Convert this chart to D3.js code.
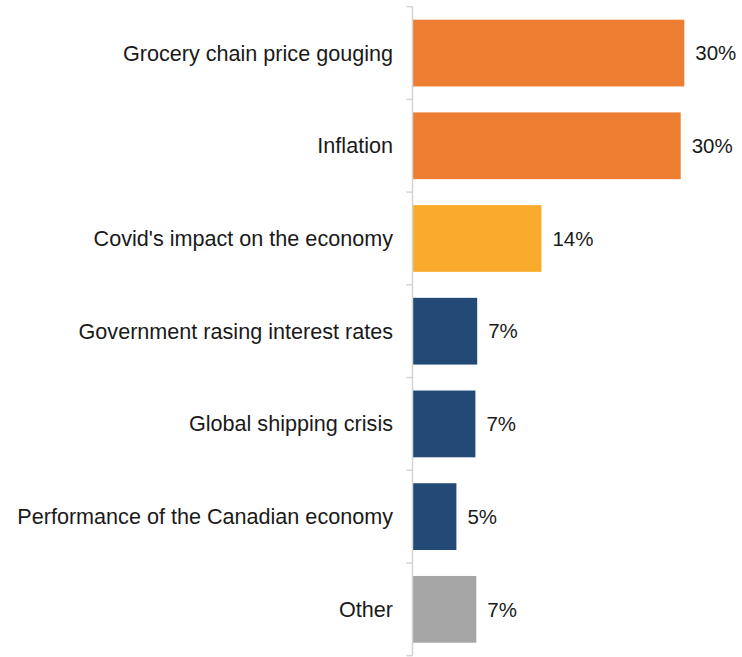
<!DOCTYPE html>
<html>
<head>
<meta charset="utf-8">
<script src="https://cdn.jsdelivr.net/npm/d3@7"></script>
<style>
  html, body { margin: 0; padding: 0; background: #ffffff; }
  svg { display: block; }
  text { font-family: "Liberation Sans", Arial, sans-serif; fill: #1a1a1a; }
</style>
</head>
<body>
<svg id="chart" width="742" height="657"></svg>
<script>
// Perceived causes of rising grocery prices (% of respondents)
const categories = [
  "Grocery chain price gouging",
  "Inflation",
  "Covid's impact on the economy",
  "Government rasing interest rates",
  "Global shipping crisis",
  "Performance of the Canadian economy",
  "Other"
];
const values = [30.0, 29.6, 14.2, 7.1, 6.9, 4.8, 7.0];
const colors = ["#ED7D31", "#ED7D31", "#F9AC2C", "#234A76", "#234A76", "#234A76", "#A6A6A6"];

const data = categories.map((c, i) => ({ category: c, value: values[i], color: colors[i] }));

const svg = d3.select("#chart");

const axisX = 412.5;
const barStart = 413;

const y = d3.scaleBand()
  .domain(categories)
  .range([6.7, 655.7])
  .paddingInner(0.28)
  .paddingOuter(0.14);

const x = d3.scaleLinear()
  .domain([0, 30])
  .range([barStart, 684.3]);

// Bars
svg.append("g")
  .selectAll("rect")
  .data(data)
  .join("rect")
  .attr("x", x(0))
  .attr("y", d => y(d.category))
  .attr("width", d => x(d.value) - x(0))
  .attr("height", y.bandwidth())
  .attr("fill", d => d.color);

// Category axis: vertical line with ticks between bands
const axisG = svg.append("g");
axisG.append("line")
  .attr("x1", axisX).attr("x2", axisX)
  .attr("y1", y.range()[0]).attr("y2", y.range()[1])
  .attr("stroke", "#d4d4d4")
  .attr("stroke-width", 1.5);

const tickYs = d3.range(categories.length + 1).map(i => y.range()[0] + i * y.step());
axisG.selectAll("line.tick")
  .data(tickYs)
  .join("line")
  .attr("class", "tick")
  .attr("x1", axisX - 6).attr("x2", axisX)
  .attr("y1", d => d).attr("y2", d => d)
  .attr("stroke", "#d4d4d4")
  .attr("stroke-width", 1.5);

// Category labels
svg.append("g")
  .selectAll("text")
  .data(data)
  .join("text")
  .attr("x", 393)
  .attr("y", d => y(d.category) + y.bandwidth() / 2)
  .attr("dy", "0.35em")
  .attr("text-anchor", "end")
  .attr("font-size", 21.6)
  .text(d => d.category);

// Value labels
svg.append("g")
  .selectAll("text")
  .data(data)
  .join("text")
  .attr("x", d => x(d.value) + 11)
  .attr("y", d => y(d.category) + y.bandwidth() / 2)
  .attr("dy", "0.35em")
  .attr("font-size", 20.5)
  .text(d => Math.round(d.value) + "%");
</script>
</body>
</html>
